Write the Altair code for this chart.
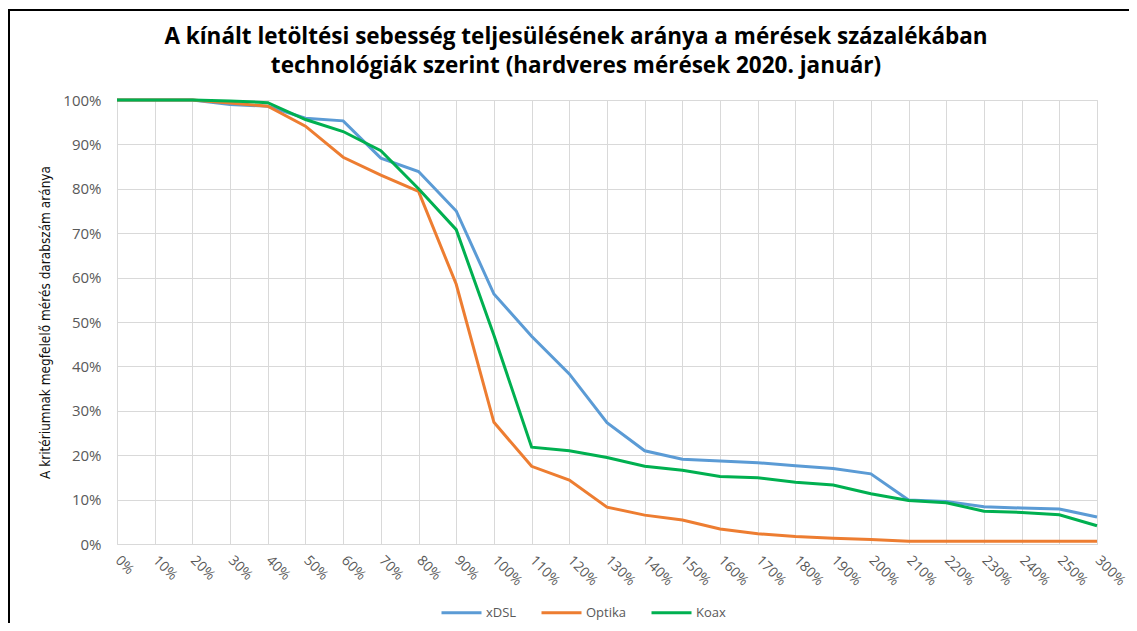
import altair as alt
import pandas as pd

categories = ["0%", "10%", "20%", "30%", "40%", "50%", "60%", "70%", "80%", "90%",
              "100%", "110%", "120%", "130%", "140%", "150%", "160%", "170%", "180%",
              "190%", "200%", "210%", "220%", "230%", "240%", "250%", "300%"]

xdsl = [100, 100, 100, 99.0, 98.6, 95.9, 95.3, 86.9, 83.9, 75.0, 56.3, 46.8, 38.3,
        27.3, 21.0, 19.1, 18.7, 18.3, 17.6, 17.0, 15.8, 9.9, 9.6, 8.4, 8.1, 7.9, 6.1]
optika = [100, 100, 100, 99.3, 98.6, 94.1, 87.1, 83.1, 79.4, 58.5, 27.4, 17.5, 14.4,
          8.3, 6.5, 5.4, 3.4, 2.3, 1.7, 1.3, 1.0, 0.6, 0.6, 0.6, 0.6, 0.6, 0.6]
koax = [100, 100, 100, 99.8, 99.4, 95.6, 92.9, 88.6, 80.0, 70.8, 47.0, 21.8, 21.0,
        19.5, 17.5, 16.6, 15.2, 14.9, 13.9, 13.3, 11.3, 9.8, 9.3, 7.4, 7.1, 6.6, 4.1]

series_names = ["xDSL", "Optika", "Koax"]
series_colors = ["#5B9BD5", "#ED7D31", "#00B050"]

title_lines = ["A kínált letöltési sebesség teljesülésének aránya a mérések százalékában",
               "technológiák szerint (hardveres mérések 2020. január)"]
y_title = "A kritériumnak megfelelő mérés darabszám aránya"

rows = []
for name, vals in zip(series_names, [xdsl, optika, koax]):
    for c, v in zip(categories, vals):
        rows.append({"kat": c, "ertek": v / 100.0, "sorozat": name, "ord": series_names.index(name)})
df = pd.DataFrame(rows)

lines = alt.Chart(df).mark_line(strokeWidth=3).encode(
    x=alt.X("kat:N", sort=categories,
            scale=alt.Scale(type="point", padding=0),
            axis=alt.Axis(title=None, labelAngle=45, labelAlign="left", labelBaseline="middle",
                          labelPadding=14, labelFont="Open Sans", labelFontSize=14,
                          labelColor="#595959", ticks=False, domain=False,
                          grid=True, gridColor="#D9D9D9", gridWidth=1, labelOverlap=False)),
    y=alt.Y("ertek:Q",
            scale=alt.Scale(domain=[0, 1], nice=False),
            axis=alt.Axis(format="%", values=[i / 10 for i in range(11)],
                          title=y_title,
                          titleFont="Liberation Sans Narrow, DejaVu Sans Condensed, Roboto Condensed, sans-serif",
                          titleFontSize=13.5,
                          titleFontWeight="normal", titleColor="#111111",
                          titleAngle=-90, titleX=-72, titleY=222, titleAlign="center",
                          titleBaseline="middle",
                          labelFont="Open Sans", labelFontSize=15, labelColor="#595959",
                          labelPadding=16, ticks=False, domain=False,
                          grid=True, gridColor="#D9D9D9", gridWidth=1)),
    color=alt.Color("sorozat:N",
                    scale=alt.Scale(domain=series_names, range=series_colors),
                    legend=alt.Legend(orient="none", legendX=323, legendY=491,
                                      direction="horizontal", title=None,
                                      symbolType="stroke", symbolSize=1600,
                                      symbolStrokeWidth=3, labelFont="Open Sans",
                                      labelFontSize=13, labelColor="#595959",
                                      columnPadding=18, labelOffset=3)),
    order=alt.Order("ord:Q"),
)

border_top = alt.Chart(pd.DataFrame({"k": [0]})).mark_rule(color="black", strokeWidth=2).encode(
    x=alt.value(-110), x2=alt.value(1030), y=alt.value(-90))
border_left = alt.Chart(pd.DataFrame({"k": [0]})).mark_rule(color="black", strokeWidth=2).encode(
    x=alt.value(-108), y=alt.value(-91), y2=alt.value(530))

chart = alt.layer(lines, border_top, border_left).properties(
    width=980, height=444,
    padding={"left": 109, "top": 92, "right": 32, "bottom": 79},
    autosize=alt.AutoSizeParams(type="none"),
    title=alt.TitleParams(text=title_lines, font="Open Sans", fontSize=22.5, fontWeight="bold",
                          color="black", anchor="middle", dx=-31, lineHeight=29, offset=-69),
).configure_view(stroke=None).configure(background="white")

chart.save("out.html", embed_options={"renderer": "svg", "actions": False})
